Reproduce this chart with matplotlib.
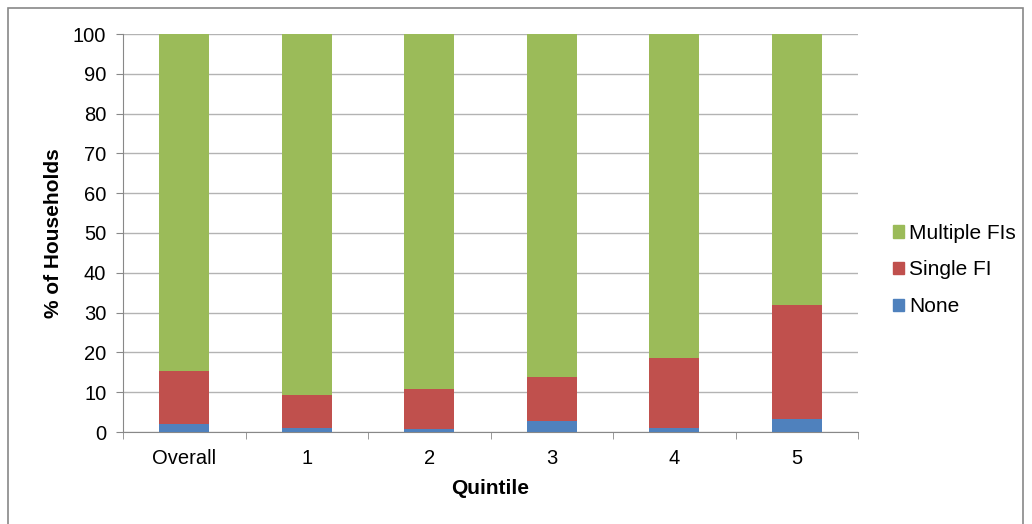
import matplotlib
matplotlib.use("Agg")
import matplotlib.pyplot as plt
from matplotlib.patches import Rectangle, Patch
import numpy as np

plt.rcParams['font.family'] = ['Liberation Sans', 'DejaVu Sans']

categories = ["Overall", "1", "2", "3", "4", "5"]
none = [2.0, 1.1, 0.8, 2.7, 1.1, 3.2]
single = [13.4, 8.2, 10.1, 11.2, 17.6, 28.6]
multiple = [84.6, 90.7, 89.1, 86.1, 81.3, 68.2]

green = "#9BBB59"
red = "#C0504D"
blue = "#4F81BD"

fig = plt.figure(figsize=(10.32, 5.24), dpi=100)
ax = fig.add_axes([123 / 1032, 1 - 432 / 524, 735 / 1032, 398 / 524])

x = np.arange(len(categories))
w = 0.41
ax.bar(x, none, w, color=blue, zorder=3)
ax.bar(x, single, w, bottom=none, color=red, zorder=3)
ax.bar(x, multiple, w, bottom=np.array(none) + np.array(single), color=green, zorder=3)

ax.set_xlim(-0.5, len(categories) - 0.5)
ax.set_ylim(0, 100)
ax.set_yticks(range(0, 101, 10))
ax.yaxis.grid(True, color="#b3b3b3", linewidth=1, zorder=0)
ax.set_xticks(x)
ax.set_xticklabels(categories)
ax.set_xticks(np.arange(len(categories) + 1) - 0.5, minor=True)
ax.tick_params(axis='x', which='major', length=0, labelsize=14.5, pad=12)
ax.tick_params(axis='x', which='minor', length=5, color="#888888")
ax.tick_params(axis='y', length=5, color="#888888", labelsize=14.5, pad=7)
for s in ["top", "right"]:
    ax.spines[s].set_visible(False)
for s in ["left", "bottom"]:
    ax.spines[s].set_color("#888888")

ax.set_xlabel("Quintile", fontsize=15, fontweight="bold", labelpad=8)
ax.set_ylabel("% of Households", fontsize=15, fontweight="bold", labelpad=7)

handles = [Patch(color=green, label="Multiple FIs"),
           Patch(color=red, label="Single FI"),
           Patch(color=blue, label="None")]
fig.legend(handles=handles, loc="center left", bbox_to_anchor=(874 / 1032, 1 - 270 / 524),
           frameon=False, fontsize=15, handlelength=0.55, handleheight=0.55,
           handletextpad=0.25, labelspacing=0.85)

fig.patches.append(Rectangle((8 / 1032, -0.02), 1015 / 1032, 1.02 - 8 / 524,
                             transform=fig.transFigure, fill=False,
                             edgecolor="#888888", linewidth=1.2))

fig.savefig("out.png", dpi=100)
